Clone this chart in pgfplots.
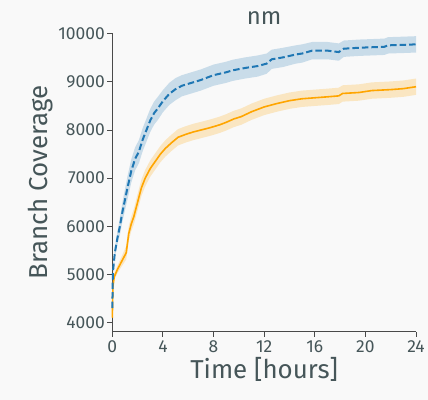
\documentclass[border=0pt]{standalone}
\usepackage{fontspec}
\setmainfont{Fira Sans}
\usepackage{pgfplots}
\pgfplotsset{compat=1.18}
\usepgfplotslibrary{fillbetween}
\usepackage{pgfplotstable}

\definecolor{bg}{HTML}{F9F9F9}
\definecolor{txt}{HTML}{465659}
\definecolor{spine}{HTML}{4A4A4A}
\definecolor{cblue}{HTML}{1F77B4}
\definecolor{corange}{HTML}{FFA500}

% t = hours, y = mean, lo/hi = band
\pgfplotstableread{
t    y    lo   hi
0    4300 4250 4350
0.05 5050 4970 5130
0.2  5450 5350 5550
0.4  5750 5620 5880
0.6  6000 5820 6180
0.8  6300 6100 6500
1.0  6550 6330 6770
1.2  6800 6560 7040
1.5  7150 6910 7390
1.8  7400 7160 7640
2.1  7550 7310 7790
2.4  7800 7560 8040
2.7  8000 7760 8240
3.0  8200 7960 8440
3.3  8350 8110 8590
3.6  8450 8210 8690
4.0  8600 8370 8830
4.5  8750 8520 8980
5.0  8850 8620 9080
5.5  8920 8700 9140
6.0  8960 8740 9180
6.5  9000 8780 9220
7.0  9040 8820 9260
7.5  9090 8870 9310
8.0  9140 8920 9360
9.0  9200 8980 9420
9.5  9240 9020 9460
10.5 9290 9070 9510
11.5 9330 9110 9550
12.2 9380 9170 9590
12.6 9470 9270 9670
13.5 9510 9310 9710
14.5 9570 9380 9760
15.0 9590 9400 9780
15.8 9650 9470 9830
17.0 9650 9470 9830
17.9 9620 9440 9800
18.3 9690 9520 9860
19.5 9710 9540 9880
20.5 9720 9550 9890
21.5 9730 9560 9900
21.8 9760 9590 9930
23.0 9770 9600 9940
24.0 9780 9610 9950
}\bluedata

\pgfplotstableread{
t    y    lo   hi
0    4100 4070 4130
0.05 4750 4690 4810
0.15 4950 4880 5020
0.4  5100 5020 5180
0.7  5250 5150 5350
0.9  5350 5230 5470
1.1  5450 5310 5590
1.3  5850 5700 6000
1.5  6050 5900 6200
1.7  6200 6040 6360
2.0  6500 6330 6670
2.3  6800 6630 6970
2.6  7000 6830 7170
3.0  7200 7030 7370
3.4  7350 7180 7520
3.8  7500 7330 7670
4.2  7620 7450 7790
4.7  7740 7570 7910
5.2  7850 7680 8020
5.8  7910 7740 8080
6.4  7960 7790 8130
7.0  8000 7830 8170
7.6  8040 7870 8210
8.0  8070 7900 8240
8.5  8110 7940 8280
9.0  8160 7990 8330
9.6  8230 8060 8400
10.2 8280 8110 8450
11.0 8380 8210 8550
12.0 8480 8310 8650
13.0 8550 8380 8720
14.0 8610 8440 8780
15.0 8650 8480 8820
16.0 8670 8500 8840
17.0 8690 8520 8860
17.9 8710 8540 8880
18.2 8760 8590 8930
19.5 8780 8610 8950
20.5 8820 8650 8990
22.0 8840 8670 9010
23.0 8860 8690 9030
24.0 8900 8730 9070
}\orangedata

\begin{document}
\begin{tikzpicture}
\begin{axis}[
    set layers,
    at={(0,0)}, anchor=south west,
    scale only axis, width=303.7bp, height=298.4bp,
    xmin=0, xmax=24, ymin=3810, ymax=10010,
    clip=false,
    axis x line*=bottom, axis y line*=left,
    axis line style={spine, line width=1.1pt},
    xtick={0,4,...,24}, ytick={4000,5000,...,10000},
    scaled y ticks=false,
    tick style={spine, line width=0.9pt},
    tick align=outside, major tick length=5bp,
    /pgf/number format/assume math mode=true,
    /pgf/number format/1000 sep={},
    ticklabel style={font=\fontsize{17.5}{17.5}\selectfont, text=txt},
    yticklabel style={xshift=1bp},
    title={nm},
    title style={font=\fontsize{24}{24}\selectfont, text=txt, yshift=-1bp},
    xlabel={Time [hours]},
    ylabel={Branch Coverage},
    label style={font=\fontsize{26}{26}\selectfont, text=txt},
    xlabel style={yshift=2bp},
    ylabel style={yshift=-2bp},
]
\pgfonlayer{axis background}
\fill[bg] ([xshift=-112.3bp, yshift=-68.3bp]rel axis cs:0,0)
    rectangle ([xshift=11.7bp, yshift=33.3bp]rel axis cs:1,1);
\endpgfonlayer
\addplot[draw=none, name path=blo, forget plot] table[x=t, y=lo] {\bluedata};
\addplot[draw=none, name path=bhi, forget plot] table[x=t, y=hi] {\bluedata};
\addplot[fill=cblue, fill opacity=0.22, draw=none] fill between[of=blo and bhi];
\addplot[draw=none, name path=olo, forget plot] table[x=t, y=lo] {\orangedata};
\addplot[draw=none, name path=ohi, forget plot] table[x=t, y=hi] {\orangedata};
\addplot[fill=corange, fill opacity=0.22, draw=none] fill between[of=olo and ohi];
\addplot[corange, line width=1.6bp] table[x=t, y=y] {\orangedata};
\addplot[cblue, line width=2bp, dash pattern=on 6.5bp off 3bp] table[x=t, y=y] {\bluedata};
\end{axis}
\pgfresetboundingbox
\path[use as bounding box] (-112.3bp,-68.3bp) rectangle (315.7bp,331.7bp);
\end{tikzpicture}
\end{document}
